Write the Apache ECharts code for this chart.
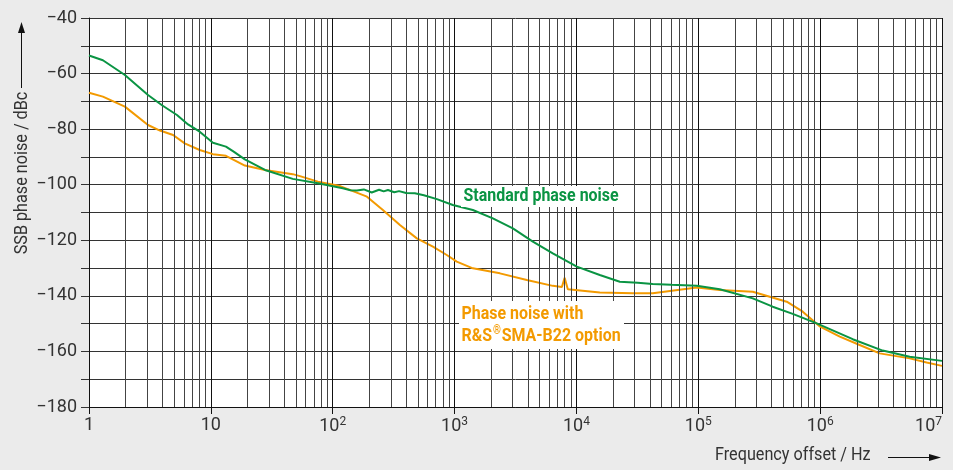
<!DOCTYPE html>
<html>
<head>
    <meta charset="utf-8">
    <script src="https://cdn.jsdelivr.net/npm/echarts@6/dist/echarts.min.js"></script>
    <style>
        body { margin: 0; background: #ebebeb; }
    </style>
</head>
<body>
    <div id="main" style="width: 953px;height:470px;"></div>
    <script type="text/javascript">
        // standard phase noise (green)
        var stdFreq = [1, 1.3, 1.97, 3.05, 4.0, 5.27, 6.5, 8.1, 10.4, 13.3, 15.5, 19, 27.8, 47, 75.6,
            121, 140, 158, 180, 209, 240, 262, 284, 320, 350, 400, 472, 560, 716, 968, 1413, 2061, 3008, 4389, 6400,
            10070, 15550, 22700, 31900, 42300, 60000, 97200, 150000, 280000, 408000, 596000,
            937000, 1850000, 3260000, 5430000, 10000000];
        var stdDb = [-53.5, -55.2, -60.5, -67.7, -71.5, -74.9, -78.3, -80.9, -84.9, -86.3, -88.2, -90.9, -94.7, -97.9, -99.5,
            -101.3, -102.0, -102.1, -101.7, -102.8, -101.8, -102.4, -101.9, -102.7, -102.3, -103.0, -103.1, -103.8, -105.2, -107.3, -109.1, -112.1, -115.7, -120.5, -124.7,
            -129.5, -132.5, -134.9, -135.3, -135.7, -136.0, -136.4, -137.6, -140.9, -143.9, -146.5,
            -149.9, -155.6, -159.7, -161.9, -163.4];

        // with SMA-B22 option (orange)
        var optFreq = [1, 1.3, 1.97, 3.05, 3.82, 4.9, 6.1, 8.1, 10.4, 13.3, 19, 27.8, 47, 53.8, 75.6,
            115, 191, 258, 356, 490, 664, 863, 1042, 1413, 2355, 3917, 6400, 7600, 8000, 8500,
            15550, 29000, 42300, 97200, 150000, 280000, 386000, 532000, 720000, 1000000,
            1450000, 2110000, 3080000, 5430000, 7480000, 10000000];
        var optDb = [-66.9, -68.3, -71.9, -78.5, -80.5, -82.1, -85.1, -87.5, -89.0, -89.6, -93.1, -94.7, -96.2, -96.9, -98.9,
            -100.5, -104.3, -109.1, -114.5, -119.3, -122.3, -125.3, -127.7, -130.1, -131.9, -134.3, -136.4, -136.8, -133.5, -137.6,
            -138.8, -139.1, -139.1, -137.0, -137.9, -138.5, -140.3, -142.1, -145.7, -151.1,
            -154.7, -157.7, -160.7, -162.5, -164.0, -165.2];

        var yMin = -180, yMax = -40;
        var decades = [1, 10, 100, 1000, 10000, 100000, 1000000, 10000000];

        function zip(a, b) {
            return a.map(function (v, i) { return [v, b[i]]; });
        }

        // minor vertical grid lines 2..9 in each decade
        var minorLines = [];
        for (var d = 0; d < decades.length - 1; d++) {
            for (var k = 2; k <= 9; k++) {
                minorLines.push({ xAxis: decades[d] * k });
            }
        }

        var font = 'Roboto, "Liberation Sans", sans-serif';
        var supMap = { 2: 2, 3: 3, 4: 4, 5: 5, 6: 6, 7: 7 };

        var myChart = echarts.init(document.getElementById('main'));
        var option = {
            backgroundColor: '#ebebeb',
            animation: false,
            grid: {
                left: 89, right: 11, top: 18, bottom: 63,
                outerBoundsMode: 'none', containLabel: false,
                show: true, backgroundColor: '#fff', borderWidth: 0
            },
            xAxis: {
                type: 'log',
                logBase: 10,
                min: 1,
                max: 10000000,
                axisLine: { lineStyle: { color: '#111', width: 1 } },
                axisTick: { show: true, length: 7, lineStyle: { color: '#111' } },
                splitLine: { show: true, lineStyle: { color: '#111', width: 1 } },
                axisLabel: {
                    color: '#333', fontFamily: font, fontSize: 18, margin: 9,
                    alignMaxLabel: 'right',
                    formatter: function (v) {
                        var e = Math.round(Math.log10(v));
                        if (e === 0) return '1';
                        if (e === 1) return '10';
                        return '10{s|' + supMap[e] + '}';
                    },
                    rich: {
                        s: { fontFamily: font, fontSize: 12, color: '#333', verticalAlign: 'top', padding: [0, 0, 8, 0] }
                    }
                }
            },
            yAxis: {
                type: 'value',
                min: yMin,
                max: yMax,
                interval: 10,
                axisLine: { show: true, lineStyle: { color: '#111', width: 1 } },
                axisTick: { show: true, length: 8, lineStyle: { color: '#333' } },
                splitLine: { show: true, lineStyle: { color: '#333', width: 1 } },
                axisLabel: {
                    color: '#333', fontFamily: font, fontSize: 18, margin: 12,
                    formatter: function (v) {
                        if (v % 20 !== 0) return '';
                        return '\u2212' + Math.abs(v);
                    }
                }
            },
            series: [
                {
                    type: 'line',
                    data: [],
                    z: 1,
                    silent: true,
                    markLine: {
                        silent: true,
                        symbol: 'none',
                        label: { show: false },
                        lineStyle: { color: '#444', width: 1, type: 'solid' },
                        data: minorLines
                    }
                },
                {
                    name: 'Standard phase noise',
                    type: 'line',
                    data: zip(stdFreq, stdDb),
                    showSymbol: false,
                    z: 5,
                    lineStyle: { color: '#0a9443', width: 2 }
                },
                {
                    name: 'Phase noise with R&S SMA-B22 option',
                    type: 'line',
                    data: zip(optFreq, optDb),
                    showSymbol: false,
                    z: 4,
                    lineStyle: { color: '#f39a00', width: 2 }
                }
            ],
            graphic: [
                {
                    type: 'text', z: 100,
                    x: 461, y: 186, scaleX: 0.84,
                    style: {
                        text: 'Standard phase noise',
                        fill: '#0a9443', font: 'bold 19px ' + font,
                        backgroundColor: '#fff', padding: [1, 3, 1, 3]
                    }
                },
                {
                    type: 'text', z: 100,
                    x: 459, y: 301, scaleX: 0.84,
                    style: {
                        text: 'Phase noise with\nR&S{r|\u00ae}SMA-B22 option',
                        fill: '#f39a00', font: 'bold 19px ' + font, lineHeight: 22,
                        backgroundColor: '#fff', padding: [2, 4, 2, 3],
                        rich: {
                            r: { fill: '#f39a00', font: 'bold 12px ' + font, verticalAlign: 'top', lineHeight: 22, padding: [0, 1, 6, 1] }
                        }
                    }
                },
                {
                    type: 'text', z: 100,
                    x: 22, y: 173, rotation: Math.PI / 2, scaleX: 0.9,
                    style: {
                        text: 'SSB phase noise / dBc',
                        fill: '#333', font: '18px ' + font,
                        align: 'center', verticalAlign: 'middle'
                    }
                },
                {
                    type: 'line', z: 100,
                    shape: { x1: 21.5, y1: 88, x2: 21.5, y2: 32 },
                    style: { stroke: '#111', lineWidth: 1 }
                },
                {
                    type: 'polygon', z: 100,
                    shape: { points: [[21.5, 22], [18, 33], [25, 33]] },
                    style: { fill: '#111' }
                },
                {
                    type: 'text', z: 100,
                    x: 715, y: 446, scaleX: 0.9,
                    style: {
                        text: 'Frequency offset / Hz',
                        fill: '#333', font: '18px ' + font
                    }
                },
                {
                    type: 'line', z: 100,
                    shape: { x1: 888, y1: 457.5, x2: 930, y2: 457.5 },
                    style: { stroke: '#111', lineWidth: 1 }
                },
                {
                    type: 'polygon', z: 100,
                    shape: { points: [[941, 457.5], [929, 454], [929, 461]] },
                    style: { fill: '#111' }
                }
            ]
        };
        myChart.setOption(option);
    </script>
</body>
</html>
